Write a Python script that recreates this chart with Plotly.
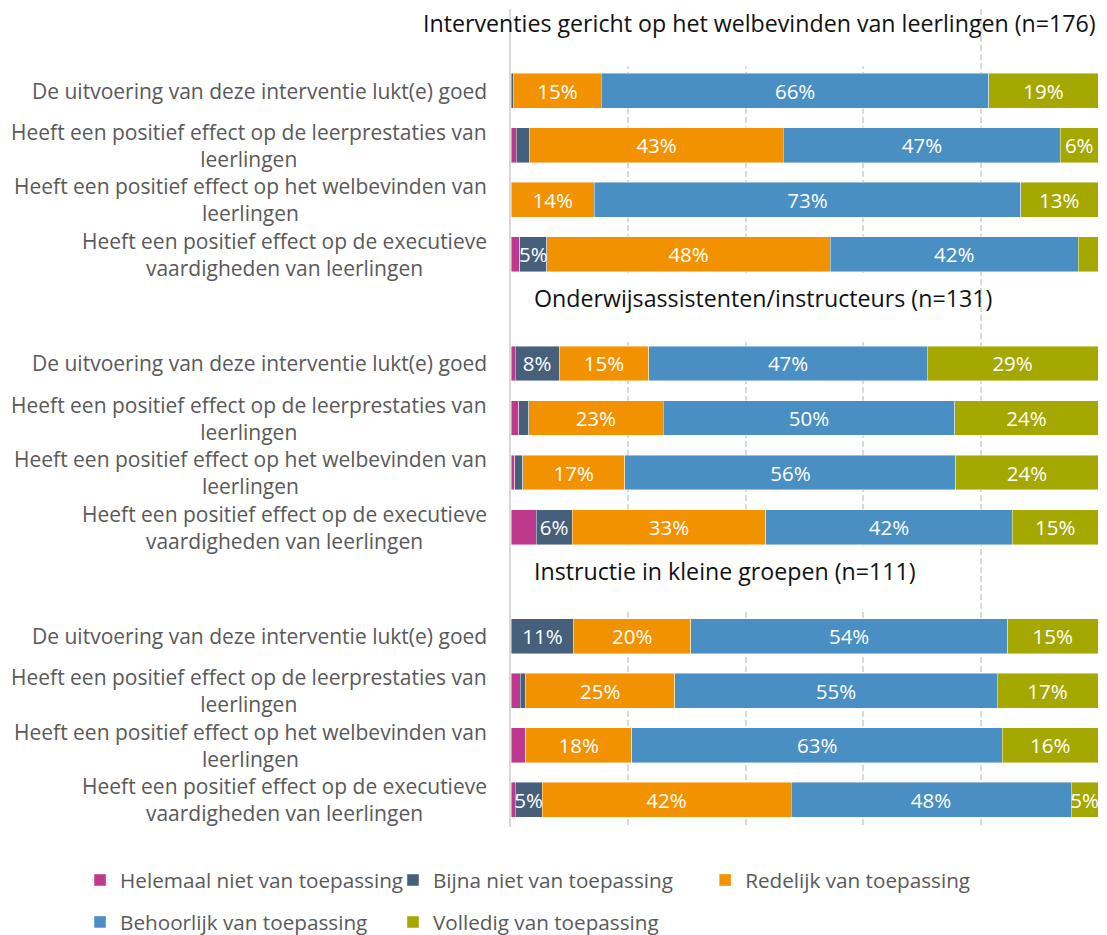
import plotly.graph_objects as go

# Survey statements (y-axis categories), repeated for each intervention group
statements = [
    "De uitvoering van deze interventie lukt(e) goed",
    "Heeft een positief effect op de leerprestaties van<br>leerlingen",
    "Heeft een positief effect op het welbevinden van<br>leerlingen",
    "Heeft een positief effect op de executieve<br>vaardigheden van leerlingen",
]

groups = [
    "Interventies gericht op het welbevinden van leerlingen (n=176)",
    "Onderwijsassistenten/instructeurs (n=131)",
    "Instructie in kleine groepen (n=111)",
]

series_names = [
    "Helemaal niet van toepassing",
    "Bijna niet van toepassing",
    "Redelijk van toepassing",
    "Behoorlijk van toepassing",
    "Volledig van toepassing",
]

# Percentages, 4 statements per group, groups in order above
helemaal = [0.0, 0.9, 0.0, 1.5, 0.7, 1.3, 0.6, 4.3, 0.0, 1.6, 2.5, 0.7]
bijna = [0.4, 2.3, 0.0, 4.6, 7.5, 1.7, 1.4, 6.1, 10.7, 0.9, 0.0, 4.6]
redelijk = [15.0, 43.2, 14.2, 48.3, 15.3, 22.9, 17.4, 33.0, 19.9, 25.4, 18.1, 42.4]
behoorlijk = [66.0, 47.2, 72.6, 42.2, 47.4, 49.7, 56.4, 42.0, 54.0, 54.9, 63.1, 47.7]
volledig = [18.6, 6.4, 13.2, 3.4, 29.1, 24.4, 24.2, 14.6, 15.4, 17.2, 16.3, 4.6]

series_values = [helemaal, bijna, redelijk, behoorlijk, volledig]
colors = ["#BE398D", "#46607B", "#F29200", "#4A8FC4", "#A5A800"]

FONT = "Open Sans"
LABEL_GREY = "#595959"

# each group takes 5 rows: a header row followed by 4 statement rows
rows_per_group = len(statements) + 1
y_pos = [g * rows_per_group + i for g in range(len(groups)) for i in range(len(statements))]
header_pos = [g * rows_per_group - 1 for g in range(len(groups))]

# legend grid: 3 entries on the first row, 2 on the second
legend_ids = ["legend", "legend2", "legend3", "legend4", "legend5"]
legend_xy = [(0.0723, 0.0588), (0.355, 0.0588), (0.637, 0.0588),
             (0.0723, 0.0139), (0.355, 0.0139)]

fig = go.Figure()
for k, (name, vals, col) in enumerate(zip(series_names, series_values, colors)):
    fig.add_trace(go.Bar(
        y=y_pos,
        x=vals,
        orientation="h",
        name=name,
        marker=dict(color=col, line=dict(color="rgba(255,255,255,0.55)", width=0.8)),
        width=0.64,
        text=[f"{v:.0f}%" if v >= 4.5 else "" for v in vals],
        textposition="inside",
        insidetextanchor="middle",
        constraintext="none",
        textangle=0,
        textfont=dict(family=FONT, size=20.5, color="white"),
        legend=legend_ids[k],
        showlegend=True,
        hoverinfo="skip",
    ))

# white panels behind the group headers (hide the gridlines there)
for g, hp in enumerate(header_pos):
    fig.add_shape(
        type="rect", layer="between", xref="x", yref="y",
        x0=0.4, x1=79.0,
        y0=hp - (0.5 if g == 0 else 0.66), y1=hp + 0.55,
        fillcolor="white", line=dict(width=0),
    )

# group headers
for g, (title, hp) in enumerate(zip(groups, header_pos)):
    if g == 0:
        fig.add_annotation(x=1.0, xref="paper", xanchor="right", y=hp - 0.25, yref="y",
                           text=title, showarrow=False,
                           font=dict(family=FONT, size=23.2, color="#111111"))
    else:
        fig.add_annotation(x=3.5, xref="x", xanchor="left", y=hp - 0.2, yref="y",
                           text=title, showarrow=False,
                           font=dict(family=FONT, size=23.2, color="#111111"))

# statement labels, centred lines, right-aligned block
for yp in y_pos:
    label = statements[yp % rows_per_group]
    fig.add_annotation(x=0, xref="paper", xanchor="right", xshift=-22,
                       y=yp, yref="y", yanchor="middle",
                       text=label, align="center", showarrow=False,
                       font=dict(family=FONT, size=21, color=LABEL_GREY))

legend_layout = {}
for lid, (lx, ly) in zip(legend_ids, legend_xy):
    legend_layout[lid] = dict(
        orientation="h", xref="container", yref="container",
        x=lx, y=ly, xanchor="left", yanchor="middle",
        font=dict(family=FONT, size=20.7, color=LABEL_GREY),
        itemwidth=30, bgcolor="rgba(0,0,0,0)", visible=True,
    )

fig.update_layout(
    width=1107, height=935,
    margin=dict(l=511, r=9, t=9, b=108, autoexpand=False),
    barmode="stack",
    showlegend=True,
    uniformtext=dict(minsize=20.5, mode="show"),
    plot_bgcolor="white",
    paper_bgcolor="white",
    font=dict(family=FONT, color=LABEL_GREY),
    xaxis=dict(range=[0, 100], showticklabels=False, showgrid=True,
               gridcolor="#D9D9D9", gridwidth=1.5, griddash="6px,3px",
               dtick=20, zeroline=False, showline=False, ticks=""),
    yaxis=dict(range=[header_pos[-1] + rows_per_group - 0.5, -1.5],
               showticklabels=False, showgrid=False, zeroline=False,
               showline=True, linecolor="#D9D9D9", linewidth=2, ticks=""),
    **legend_layout,
)

fig.write_html("out.html")
